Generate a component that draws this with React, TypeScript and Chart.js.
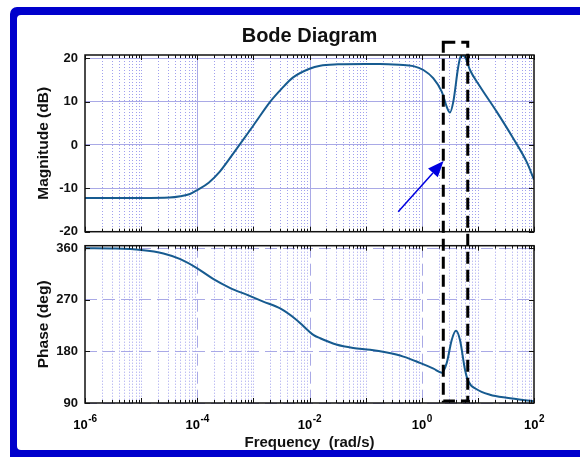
import React, { useEffect, useRef } from 'react';
import { Chart, registerables } from 'chart.js';

Chart.register(...registerables);

// ---- data ----
const magFreq = [1e-6, 1e-5, 3.2e-5, 5e-5, 7.4e-5, 1e-4, 1.6e-4, 2.5e-4, 4.7e-4, 1e-3, 2e-3, 3.2e-3, 5.1e-3, 1e-2, 1.55e-2, 3.2e-2, 0.1, 0.18, 0.4, 0.71, 1.07, 1.6, 2.27, 2.79, 3.18, 3.65, 4.48, 5.0, 5.5, 6.07, 7.24, 10.9, 21.6, 42.8, 74, 100];
const magDb = [-12.2, -12.2, -12.1, -11.8, -11.3, -10.4, -8.7, -6.2, -1.4, 4.5, 10.0, 13.0, 15.6, 17.6, 18.3, 18.6, 18.7, 18.7, 18.5, 18.2, 17.3, 15.4, 12.3, 8.8, 7.5, 10.0, 18.1, 20.6, 20.6, 20.0, 17.3, 13.5, 7.7, 1.5, -3.9, -8.0];

const phaseFreq = [1e-6, 3.2e-6, 1e-5, 2.5e-5, 5e-5, 1e-4, 1.95e-4, 3.8e-4, 7.6e-4, 1.5e-3, 3e-3, 5.9e-3, 1.17e-2, 1.55e-2, 3e-2, 6e-2, 0.12, 0.24, 0.47, 0.93, 1.62, 2.27, 2.79, 3.42, 4.07, 4.8, 5.9, 6.75, 9.5, 16.4, 32.7, 100];
const phaseDeg = [360, 359.5, 357, 351, 341, 325, 306, 291, 279, 267, 255, 235, 209, 203, 192, 186, 183, 178, 171, 160, 150, 143, 160, 200, 216, 200, 148, 128, 114, 104.5, 99, 93];

const xLabelValues = [1e-6, 1e-4, 1e-2, 1, 100];
const xLabelExps = ['-6', '-4', '-2', '0', '2'];
const magTicks = [-20, -10, 0, 10, 20];
const phaseTicks = [90, 180, 270, 360];
const magRange = [-20, 20.76];
const phaseRange = [90, 364.5];

// annotation (data space)
const boxFreqs = [2.42, 6.6];
const boxTopDb = 23.7;
const boxBottomDeg = 93.5;
const arrowFrom = { f: 0.38, db: -15.4 };
const arrowTo = { f: 2.45, db: -3.7 };

const FONT = '"Liberation Sans", Arial, sans-serif';
const CURVE = '#175b90';
const GRID_MAJOR = '#a9a9e6';
const GRID_MINOR = '#a0a0ee';
const FRAME_BLUE = '#0000cc';

const decor = {
  id: 'decor',
  beforeDatasetsDraw(chart: any) {
    const { ctx } = chart;
    const x = chart.scales.x;
    const panels: [any, number[]][] = [
      [chart.scales.yMag, []],
      [chart.scales.yPhase, [12, 6]],
    ];
    ctx.save();
    ctx.lineWidth = 1;
    for (const [y, majorDash] of panels) {
      for (let d = -6; d <= 1; d++) {
        for (let k = 1; k <= 9; k++) {
          const v = k * Math.pow(10, d);
          if (v <= 1e-6 * 1.0001) continue;
          const px = Math.round(x.getPixelForValue(v)) + 0.5;
          const major = k === 1 && d % 2 === 0;
          ctx.setLineDash(major ? majorDash : [1, 2]);
          ctx.strokeStyle = major ? GRID_MAJOR : GRID_MINOR;
          ctx.beginPath();
          ctx.moveTo(px, y.top);
          ctx.lineTo(px, y.bottom);
          ctx.stroke();
        }
      }
    }
    ctx.restore();
  },
  afterDatasetsDraw(chart: any) {
    const { ctx } = chart;
    const x = chart.scales.x;
    const ym = chart.scales.yMag;
    const yp = chart.scales.yPhase;
    ctx.save();
    // frames + inward ticks
    const panels: [any, number[]][] = [[ym, magTicks], [yp, phaseTicks]];
    ctx.strokeStyle = '#111';
    for (const [y, ticks] of panels) {
      ctx.setLineDash([]);
      ctx.lineWidth = 1.5;
      ctx.strokeRect(x.left, y.top, x.right - x.left, y.bottom - y.top);
      ctx.lineWidth = 1;
      ctx.beginPath();
      for (let d = -6; d <= 2; d++) {
        for (let k = 1; k <= 9; k++) {
          const v = k * Math.pow(10, d);
          if (v > 100 * 1.0001) continue;
          const px = Math.round(x.getPixelForValue(v)) + 0.5;
          const len = k === 1 ? 5 : 3;
          ctx.moveTo(px, y.top);
          ctx.lineTo(px, y.top + len);
          ctx.moveTo(px, y.bottom);
          ctx.lineTo(px, y.bottom - len);
        }
      }
      for (const t of ticks) {
        const py = Math.round(y.getPixelForValue(t)) + 0.5;
        ctx.moveTo(x.left, py);
        ctx.lineTo(x.left + 5, py);
        ctx.moveTo(x.right, py);
        ctx.lineTo(x.right - 5, py);
      }
      ctx.stroke();
    }

    // x tick labels with superscript exponents
    ctx.fillStyle = '#000';
    ctx.textBaseline = 'alphabetic';
    ctx.textAlign = 'left';
    xLabelValues.forEach((v, i) => {
      const px = x.getPixelForValue(v);
      ctx.font = `bold 13px ${FONT}`;
      const wBase = ctx.measureText('10').width;
      ctx.font = `bold 10px ${FONT}`;
      const wExp = ctx.measureText(xLabelExps[i]).width;
      const start = px - (wBase + wExp) / 2;
      ctx.font = `bold 13px ${FONT}`;
      ctx.fillText('10', start, 428.5);
      ctx.font = `bold 10px ${FONT}`;
      ctx.fillText(xLabelExps[i], start + wBase + 0.5, 422);
    });

    // dashed highlight box
    const bx0 = x.getPixelForValue(boxFreqs[0]);
    const bx1 = x.getPixelForValue(boxFreqs[1]);
    const by0 = ym.getPixelForValue(boxTopDb);
    const by1 = yp.getPixelForValue(boxBottomDeg);
    ctx.strokeStyle = '#000';
    ctx.lineWidth = 3;
    ctx.setLineDash([12, 6]);
    ctx.strokeRect(bx0, by0, bx1 - bx0, by1 - by0);
    ctx.setLineDash([]);

    // arrow
    const ax0 = x.getPixelForValue(arrowFrom.f);
    const ay0 = ym.getPixelForValue(arrowFrom.db);
    const ax1 = x.getPixelForValue(arrowTo.f);
    const ay1 = ym.getPixelForValue(arrowTo.db);
    const ang = Math.atan2(ay1 - ay0, ax1 - ax0);
    const headLen = 16;
    const headW = 6.5;
    const baseX = ax1 - headLen * Math.cos(ang);
    const baseY = ay1 - headLen * Math.sin(ang);
    ctx.strokeStyle = '#0000e0';
    ctx.fillStyle = '#0000e0';
    ctx.lineWidth = 1.5;
    ctx.beginPath();
    ctx.moveTo(ax0, ay0);
    ctx.lineTo(baseX, baseY);
    ctx.stroke();
    ctx.beginPath();
    ctx.moveTo(ax1, ay1);
    ctx.lineTo(baseX + headW * Math.sin(ang), baseY - headW * Math.cos(ang));
    ctx.lineTo(baseX - headW * Math.sin(ang), baseY + headW * Math.cos(ang));
    ctx.closePath();
    ctx.fill();
    ctx.restore();
  },
  afterDraw(chart: any) {
    const { ctx, width } = chart;
    ctx.save();
    ctx.fillStyle = FRAME_BLUE;
    // frame open on the right: top bar, left bar, bottom bar
    ctx.beginPath();
    ctx.moveTo(width, 7);
    ctx.lineTo(17, 7);
    ctx.arcTo(10, 7, 10, 14, 7);
    ctx.lineTo(10, 457);
    ctx.lineTo(width, 457);
    ctx.lineTo(width, 450);
    ctx.lineTo(21, 450);
    ctx.arcTo(17, 450, 17, 446, 4);
    ctx.lineTo(17, 19);
    ctx.arcTo(17, 15, 21, 15, 4);
    ctx.lineTo(width, 15);
    ctx.closePath();
    ctx.fill();
    ctx.restore();
  },
};

export default function App() {
  const ref = useRef<HTMLCanvasElement>(null);
  useEffect(() => {
    const canvas = ref.current!;
    const chart = new Chart(canvas, {
      type: 'line',
      data: {
        datasets: [
          {
            label: 'Magnitude',
            data: magFreq.map((f, i) => ({ x: f, y: magDb[i] })),
            xAxisID: 'x',
            yAxisID: 'yMag',
            borderColor: CURVE,
            borderWidth: 2,
            pointRadius: 0,
            cubicInterpolationMode: 'monotone',
            fill: false,
          },
          {
            label: 'Phase',
            data: phaseFreq.map((f, i) => ({ x: f, y: phaseDeg[i] })),
            xAxisID: 'x',
            yAxisID: 'yPhase',
            borderColor: CURVE,
            borderWidth: 2,
            pointRadius: 0,
            cubicInterpolationMode: 'monotone',
            fill: false,
          },
        ],
      },
      options: {
        animation: false,
        responsive: false,
        devicePixelRatio: 1,
        layout: { padding: { top: 0, right: 46, bottom: 0, left: 0 } },
        plugins: {
          legend: { display: false },
          tooltip: { enabled: false },
          title: {
            display: true,
            fullSize: false,
            text: 'Bode Diagram',
            color: '#111',
            font: { family: FONT, size: 20, weight: 'bold' },
            padding: { top: 24, bottom: 55 - 24 - 24 },
          },
        },
        scales: {
          x: {
            type: 'logarithmic',
            min: 1e-6,
            max: 100,
            position: 'bottom',
            grid: { display: false },
            border: { display: false },
            ticks: { display: false },
            title: {
              display: true,
              text: 'Frequency  (rad/s)',
              color: '#111',
              font: { family: FONT, size: 15, weight: 'bold' },
              padding: { top: 0, bottom: 5.4 },
            },
            afterFit: (s: any) => {
              s.height = 54;
            },
          },
          yMag: {
            type: 'linear',
            position: 'left',
            stack: 'bode',
            stackWeight: 176.7,
            weight: 3,
            min: magRange[0],
            max: magRange[1],
            afterBuildTicks: (s: any) => {
              s.ticks = magTicks.map((v) => ({ value: v }));
            },
            grid: { color: GRID_MAJOR, lineWidth: 1, drawTicks: false },
            border: { display: false },
            ticks: {
              color: '#111',
              padding: 7,
              font: { family: FONT, size: 13, weight: 'bold' },
            },
            title: {
              display: true,
              text: 'Magnitude (dB)',
              color: '#111',
              font: { family: FONT, size: 15.5, weight: 'bold' },
              padding: { top: 34.7, bottom: 0 },
            },
            afterFit: (s: any) => {
              s.width = 85;
            },
          },
          yGap: {
            type: 'linear',
            position: 'left',
            stack: 'bode',
            stackWeight: 14,
            weight: 2,
            grid: { display: false },
            border: { display: false },
            ticks: { display: false },
            afterFit: (s: any) => {
              s.width = 85;
            },
          },
          yPhase: {
            type: 'linear',
            position: 'left',
            stack: 'bode',
            stackWeight: 157.3,
            weight: 1,
            min: phaseRange[0],
            max: phaseRange[1],
            afterBuildTicks: (s: any) => {
              s.ticks = phaseTicks.map((v) => ({ value: v }));
            },
            grid: { color: GRID_MAJOR, lineWidth: 1, drawTicks: false },
            border: { display: false, dash: [12, 6] },
            ticks: {
              color: '#111',
              padding: 7,
              font: { family: FONT, size: 13, weight: 'bold' },
            },
            title: {
              display: true,
              text: 'Phase (deg)',
              color: '#111',
              font: { family: FONT, size: 15.5, weight: 'bold' },
              padding: { top: 34.7, bottom: 0 },
            },
            afterFit: (s: any) => {
              s.width = 85;
            },
          },
        },
      } as any,
      plugins: [decor],
    });
    return () => chart.destroy();
  }, []);

  return (
    <div style={{ position: 'absolute', left: 0, top: 0, width: 580, height: 457, background: '#fff' }}>
      <canvas ref={ref} width={580} height={457} style={{ display: 'block', width: 580, height: 457 }} />
    </div>
  );
}
